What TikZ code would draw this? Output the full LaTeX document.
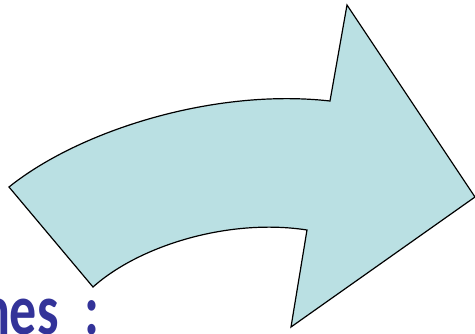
\documentclass[tikz,border=0pt]{standalone}
\usepackage{fontspec}
\setmainfont{Carlito}
\usepackage{xcolor}
\usetikzlibrary{calc}
\definecolor{arrowfill}{RGB}{186,224,227}
\definecolor{titleblue}{RGB}{51,51,153}
\tikzset{
  bigarrow/.style={draw=black,fill=arrowfill,line width=1.2pt,line join=miter},
  title/.style={font=\bfseries\fontsize{72}{72}\selectfont,text=titleblue,
    inner sep=0pt,xscale=0.75},
}
\begin{document}
\begin{tikzpicture}[x=1pt,y=-1pt]
\useasboundingbox (0,0) rectangle (475,333);
\clip (0,0) rectangle (475,333);
% corners of the curved arrow
\coordinate (tailtop) at (9,187);
\coordinate (tailbot) at (93,287);
\coordinate (notchtop) at (330,101);
\coordinate (notchbot) at (307,230);
\coordinate (headtop) at (347,5);
\coordinate (headtip) at (475,197);
\coordinate (headbot) at (291,327);

\draw[bigarrow] (tailtop) .. controls (80,130) and (215,88) .. (notchtop)
  -- (headtop) -- (headtip) -- (headbot) -- (notchbot)
  .. controls (230,218) and (140,245) .. (tailbot) -- cycle;

\node[title,anchor=base east] (caption) at (100,334) {nes\hspace{0.26em} :};
\end{tikzpicture}
\end{document}
